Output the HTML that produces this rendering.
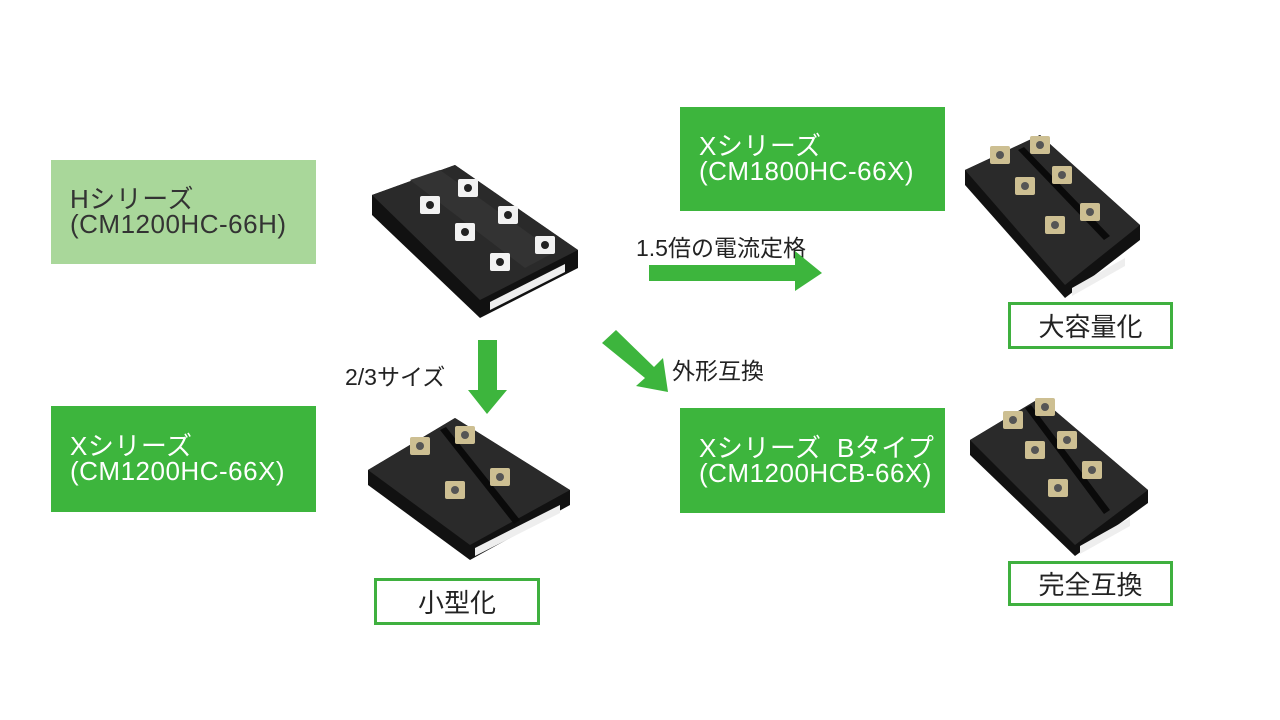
<!DOCTYPE html>
<html><head><meta charset="utf-8"><style>
html,body{margin:0;padding:0;background:#fff;}
body{width:1280px;height:720px;position:relative;overflow:hidden;font-family:"Liberation Sans","Noto Sans CJK JP",sans-serif;}
.box{position:absolute;box-sizing:border-box;padding-left:19px;font-size:26px;line-height:25px;display:flex;flex-direction:column;justify-content:center;color:#fff;letter-spacing:0.5px;}
.ob{position:absolute;box-sizing:border-box;border:3px solid #3fb03f;background:#fff;color:#222;font-size:26px;display:flex;align-items:center;justify-content:center;}
.lbl{position:absolute;font-size:23px;color:#222;}
</style></head><body>
<div class="box" style="left:51px;top:160px;width:265px;height:104px;background:#a9d79a;color:#333;">Hシリーズ<br>(CM1200HC-66H)</div>
<div class="box" style="left:680px;top:107px;width:265px;height:104px;background:#3db53d;">Xシリーズ<br>(CM1800HC-66X)</div>
<div class="box" style="left:51px;top:406px;width:265px;height:106px;background:#3db53d;">Xシリーズ<br>(CM1200HC-66X)</div>
<div class="box" style="left:680px;top:408px;width:265px;height:105px;background:#3db53d;">Xシリーズ&nbsp;&nbsp;Bタイプ<br>(CM1200HCB-66X)</div>
<div class="ob" style="left:1008px;top:302px;width:165px;height:47px;">大容量化</div>
<div class="ob" style="left:1008px;top:561px;width:165px;height:45px;">完全互換</div>
<div class="ob" style="left:374px;top:578px;width:166px;height:47px;">小型化</div>
<div class="lbl" style="left:636px;top:229px;">1.5倍の電流定格</div>
<div class="lbl" style="left:345px;top:358px;">2/3サイズ</div>
<div class="lbl" style="left:672px;top:352px;">外形互換</div>
<svg width="1280" height="720" style="position:absolute;left:0;top:0">
<g fill="#3db53d">
<polygon points="649,265 795,265 795,251 822,273 795,291 795,281 649,281"/>
<polygon points="478,340 497,340 497,390 507,390 487,414 468,390 478,390"/>
<polygon points="602,343 616,330 654,367 663,358 668,392 636,386 645,378"/>
</g>
<defs>
<g id="term"><rect x="-10" y="-9" width="20" height="18" rx="2" fill="#cdbf92"/><circle r="4" fill="#555"/></g>
<g id="termw"><rect x="-10" y="-9" width="20" height="18" rx="2" fill="#f2f2f2"/><circle r="4" fill="#222"/></g>
</defs>
<!-- Module A -->
<g>
<polygon points="372,195 455,165 578,250 578,268 480,318 372,215" fill="#111"/>
<polygon points="372,195 455,165 578,250 480,300" fill="#2a2a2a"/>
<polygon points="410,180 440,170 555,252 525,268" fill="#333"/>
<polygon points="490,302 565,264 565,272 490,310" fill="#eee"/>
<use href="#termw" x="468" y="188"/><use href="#termw" x="508" y="215"/><use href="#termw" x="545" y="245"/>
<use href="#termw" x="430" y="205"/><use href="#termw" x="465" y="232"/><use href="#termw" x="500" y="262"/>
</g>
<!-- Module B -->
<g>
<polygon points="965,170 1040,135 1140,225 1140,240 1065,298 965,185" fill="#111"/>
<polygon points="965,170 1040,135 1140,225 1065,285" fill="#2a2a2a"/>
<polygon points="1018,150 1024,147 1110,236 1104,240" fill="#0a0a0a"/>
<polygon points="1072,288 1125,258 1125,266 1072,296" fill="#eee"/>
<use href="#term" x="1000" y="155"/><use href="#term" x="1040" y="145"/>
<use href="#term" x="1025" y="186"/><use href="#term" x="1062" y="175"/>
<use href="#term" x="1055" y="225"/><use href="#term" x="1090" y="212"/>
</g>
<!-- Module C -->
<g>
<polygon points="368,470 455,418 570,490 570,505 470,560 368,485" fill="#111"/>
<polygon points="368,470 455,418 570,490 470,545" fill="#2a2a2a"/>
<polygon points="440,430 446,427 520,520 514,524" fill="#0a0a0a"/>
<polygon points="475,548 560,505 560,513 475,556" fill="#eee"/>
<use href="#term" x="420" y="446"/><use href="#term" x="465" y="435"/>
<use href="#term" x="455" y="490"/><use href="#term" x="500" y="477"/>
</g>
<!-- Module D -->
<g>
<polygon points="970,440 1040,398 1148,490 1148,503 1075,556 970,455" fill="#111"/>
<polygon points="970,440 1040,398 1148,490 1075,545" fill="#2a2a2a"/>
<polygon points="1025,408 1031,405 1110,510 1104,514" fill="#0a0a0a"/>
<polygon points="1080,546 1130,518 1130,526 1080,554" fill="#eee"/>
<use href="#term" x="1013" y="420"/><use href="#term" x="1045" y="407"/>
<use href="#term" x="1035" y="450"/><use href="#term" x="1067" y="440"/>
<use href="#term" x="1058" y="488"/><use href="#term" x="1092" y="470"/>
</g>
</svg>
</body></html>
